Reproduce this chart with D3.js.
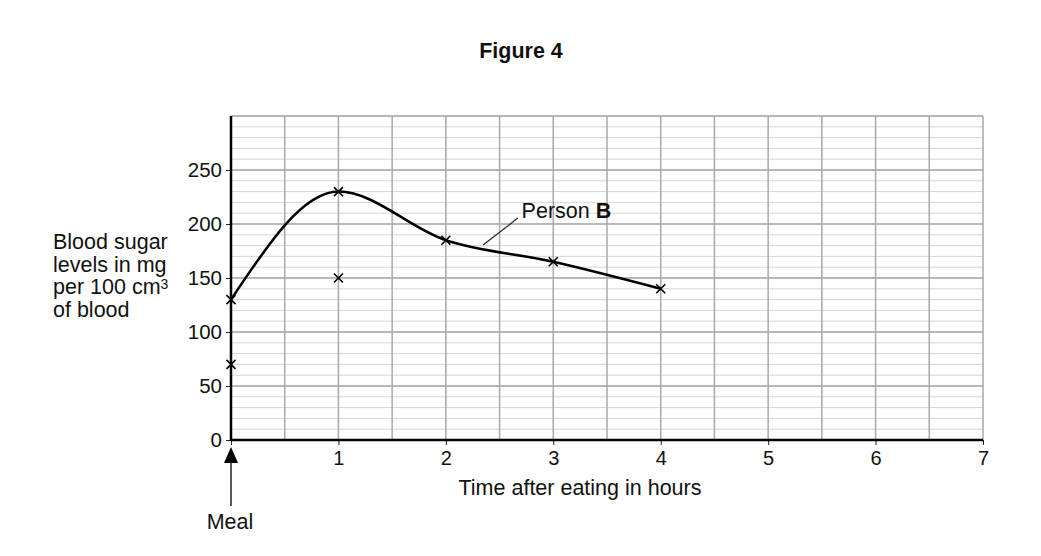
<!DOCTYPE html>
<html><head><meta charset="utf-8">
<script src="https://cdn.jsdelivr.net/npm/d3@7"></script>
<style>body{margin:0;background:#fff}svg{display:block}text{font-family:"Liberation Sans",Arial,sans-serif;fill:#111}</style>
</head><body>
<script>
const hours = [0, 1, 2, 3, 4];
const personB = [130, 230, 185, 165, 140];
const extraHours = [0, 1];
const extraValues = [70, 150];
const xTicks = [0, 1, 2, 3, 4, 5, 6, 7];
const yTicks = [0, 50, 100, 150, 200, 250];
const yLabelLines = ["Blood sugar", "levels in mg", "per 100 cm", "of blood"];

const W = 1041, H = 556;
const svg = d3.select("body").append("svg").attr("width", W).attr("height", H);
const x = d3.scaleLinear().domain([0, 7]).range([231, 983]);
const y = d3.scaleLinear().domain([0, 300]).range([440, 116]);
const FONT = "Liberation Sans, Arial, sans-serif";

// grid
const g = svg.append("g");
g.selectAll(".hmin").data(d3.range(10, 301, 10).filter(v => v % 50 !== 0)).join("line")
  .attr("x1", x(0)).attr("x2", x(7)).attr("y1", d => y(d)).attr("y2", d => y(d))
  .attr("stroke", "#d6d6d6").attr("stroke-width", 1);
g.selectAll(".hmaj").data(d3.range(50, 301, 50)).join("line")
  .attr("x1", x(0)).attr("x2", x(7)).attr("y1", d => y(d)).attr("y2", d => y(d))
  .attr("stroke", "#a0a0a0").attr("stroke-width", 1.5);
g.selectAll(".v").data(d3.range(0.5, 7.01, 0.5)).join("line")
  .attr("x1", d => x(d)).attr("x2", d => x(d)).attr("y1", y(0)).attr("y2", y(300))
  .attr("stroke", "#a8a8a8").attr("stroke-width", 1.5);

// axes
const yAxis = d3.axisLeft(y).tickValues(yTicks).tickSize(5).tickPadding(4);
const ya = svg.append("g").attr("transform", `translate(${x(0)},0)`).call(yAxis);
ya.select(".domain").remove();
ya.selectAll("text").attr("font-size", 20.5).attr("fill", "#111").style("font-family", FONT);
ya.selectAll("line").attr("stroke", "#222");
const xAxis = d3.axisBottom(x).tickValues(xTicks).tickFormat(d => d === 0 ? "" : d).tickSize(5).tickPadding(6);
const xa = svg.append("g").attr("transform", `translate(0,${y(0)})`).call(xAxis);
xa.select(".domain").remove();
xa.selectAll("text").attr("font-size", 20).attr("fill", "#111").style("font-family", FONT);
xa.selectAll("line").attr("stroke", "#222");
svg.append("line").attr("x1", x(0)).attr("x2", x(7)).attr("y1", y(0)).attr("y2", y(0)).attr("stroke", "#000").attr("stroke-width", 2.5);
svg.append("line").attr("x1", x(0)).attr("x2", x(0)).attr("y1", y(0)+1).attr("y2", y(300)).attr("stroke", "#000").attr("stroke-width", 2.5);

// curve
const pts = hours.map((h, i) => [h, personB[i]]);
svg.append("path").datum(pts)
  .attr("d", d3.line().x(d => x(d[0])).y(d => y(d[1])).curve(d3.curveMonotoneX))
  .attr("fill", "none").attr("stroke", "#000").attr("stroke-width", 2.5);

function cross(px, py) {
  const s = 4.5;
  svg.append("path").attr("d", `M${px-s},${py-s}L${px+s},${py+s}M${px-s},${py+s}L${px+s},${py-s}`)
    .attr("stroke", "#000").attr("stroke-width", 1.6).attr("fill", "none");
}
pts.forEach(d => cross(x(d[0]), y(d[1])));
extraHours.forEach((h, i) => cross(x(h), y(extraValues[i])));

// Person B label
svg.append("line").attr("x1", x(2.346)).attr("y1", y(180.5)).attr("x2", x(2.67)).attr("y2", y(205.5))
  .attr("stroke", "#222").attr("stroke-width", 1.2);
const lab = svg.append("text").attr("x", x(2.705)).attr("y", y(205.5)).attr("font-size", 21.5);
lab.append("tspan").text("Person ");
lab.append("tspan").attr("font-weight", "bold").text("B");

// title
svg.append("text").attr("x", 521).attr("y", 58).attr("text-anchor", "middle")
  .attr("font-size", 21.5).attr("font-weight", "bold").text("Figure 4");

// y label
yLabelLines.forEach((t, i) => {
  const tx = svg.append("text").attr("x", 53).attr("y", 249 + i * 22.5).attr("font-size", 21.5).text(t);
  if (i === 2) tx.append("tspan").attr("font-size", 14).attr("dy", -5).text("3");
});

// x label
svg.append("text").attr("x", 580).attr("y", 495).attr("text-anchor", "middle").attr("font-size", 21.5).text("Time after eating in hours");

// meal arrow
svg.append("path").attr("d", `M${x(0)},447L${x(0)-7},463L${x(0)+7},463Z`).attr("fill", "#000");
svg.append("line").attr("x1", x(0)).attr("x2", x(0)).attr("y1", 462).attr("y2", 506).attr("stroke", "#222").attr("stroke-width", 1.5);
svg.append("text").attr("x", 230).attr("y", 529).attr("text-anchor", "middle").attr("font-size", 21.5).text("Meal");
</script>
</body></html>
